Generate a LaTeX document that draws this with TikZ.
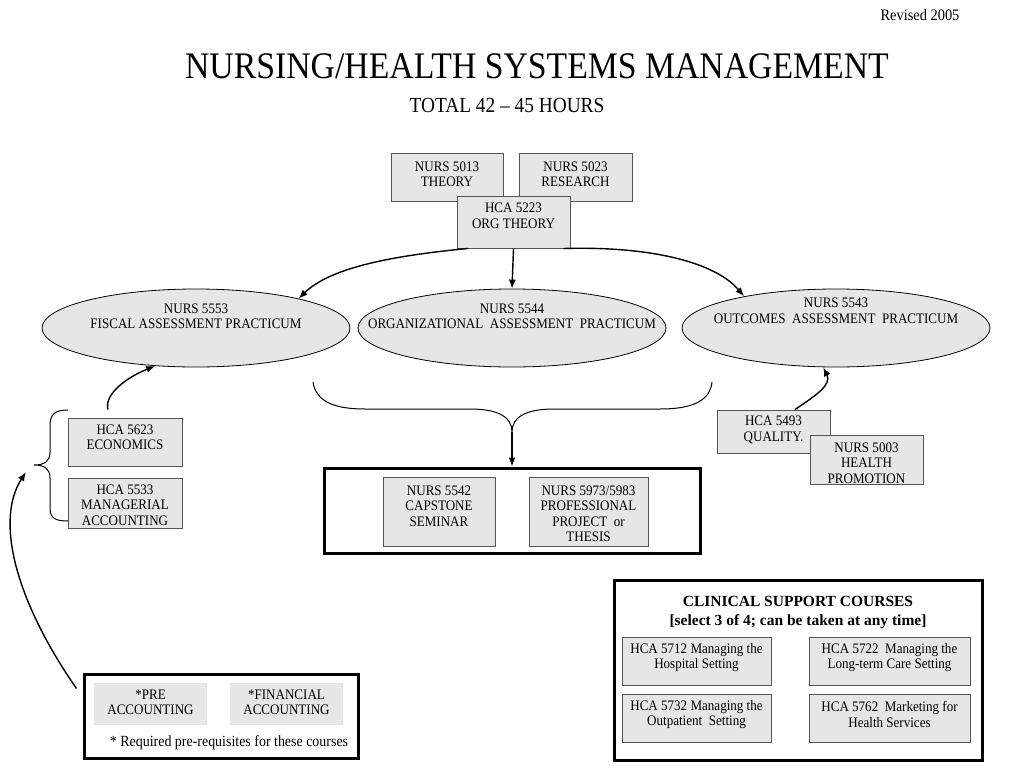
\documentclass[tikz,border=0pt]{standalone}
\usepackage{fontspec}
\setmainfont{Liberation Serif}[FakeStretch=0.9]
\newfontfamily\headfont{Liberation Serif}
\usetikzlibrary{arrows.meta,shapes.geometric}
\definecolor{boxgray}{HTML}{E6E6E6}
\definecolor{edgegray}{HTML}{555555}
\begin{document}
\begin{tikzpicture}
[x=1pt,y=-1pt,
  boxdecorate/.style={draw=edgegray,fill=boxgray,line width=1pt,inner sep=0pt},%
  plaindecorate/.style={fill=boxgray,inner sep=0pt},%
  ovaldecorate/.style={shape=ellipse,draw,fill=boxgray,line width=0.8pt,
    minimum width=308,minimum height=78,inner sep=0pt},%
  framedecorate/.style={draw,line width=3pt,inner sep=0pt},%
  textdecorate/.style={align=center,inner sep=0pt,
    font=\fontsize{14.5}{15.5}\selectfont},%
  linedecorate/.style={-{Latex[length=9pt,width=7pt]},line width=1.4pt},%
  bracedecorate/.style={line width=1pt}]
\useasboundingbox (0,0) rectangle (1024,768);
%% headings
\node (revised) at (920,15) [font=\fontsize{16}{18}\selectfont] {Revised 2005};
\node (title) at (537,66) [font=\fontsize{37.5}{40}\selectfont]
  {NURSING/HEALTH SYSTEMS MANAGEMENT};
\node (total) at (507,105) [font=\fontsize{21.5}{24}\selectfont]
  {TOTAL 42 -- 45 HOURS};
%% frames
\node (capframe) at (512,510.5) [framedecorate,minimum width=376,minimum height=85] {};
\node (clinframe) at (798,670) [framedecorate,minimum width=368,minimum height=180] {};
\node (preframe) at (221,716) [framedecorate,minimum width=274,minimum height=84] {};
%% course boxes
\foreach \nodename/\x/\y/\w/\h/\ty/\txt in {
  theory/447/177/112/48/174/{NURS 5013\\THEORY},
  research/575.5/177/113/48/174/{NURS 5023\\RESEARCH},
  org/513.5/222/113/52/216/{HCA 5223\\ORG THEORY},
  econ/125/442/114/48/437.5/{HCA 5623\\ECONOMICS},
  manacc/125/503/114/50/505/{HCA 5533\\MANAGERIAL\\ACCOUNTING},
  capstone/439/511.5/112/69/506/{NURS 5542\\CAPSTONE\\SEMINAR},
  project/588.5/511.5/119/69/513.5/{NURS 5973/5983\\PROFESSIONAL\\PROJECT\ \ or\\THESIS},
  quality/773.5/431.5/113/43/430/{HCA 5493\\QUALITY.},
  health/866.5/459.5/113/49/463/{NURS 5003\\HEALTH\\PROMOTION},
  hosp/696.5/661/149/48/657.5/{HCA 5712 Managing the\\Hospital Setting},
  ltc/889.5/661/161/48/657.5/{HCA 5722\ \ Managing the\\Long-term Care Setting},
  outpat/696.5/718/149/48/714.5/{HCA 5732 Managing the\\Outpatient\ \ Setting},
  market/889.5/718/161/48/714.5/{HCA 5762\ \ Marketing for\\Health Services}} {
  \node (\nodename) at (\x,\y) [boxdecorate,minimum width=\w,minimum height=\h] {};
  \node (\nodename-txt) at (\x,\ty) [textdecorate] {\txt};
}
\foreach \nodename/\x/\txt in {preacc/150.5/{*PRE\\ACCOUNTING},
  finacc/286.5/{*FINANCIAL\\ACCOUNTING}} {
  \node (\nodename) at (\x,704) [plaindecorate,minimum width=113,minimum height=42] {};
  \node (\nodename-txt) at (\x,702.5) [textdecorate] {\txt};
}
%% practicum ellipses
\foreach \nodename/\x/\ty/\txt in {
  fiscal/196/316.5/{NURS 5553\\FISCAL ASSESSMENT PRACTICUM},
  orgpract/512/316.5/{NURS 5544\\ORGANIZATIONAL\ \ ASSESSMENT\ \ PRACTICUM},
  outcomes/836/311/{NURS 5543\\OUTCOMES\ \ ASSESSMENT\ \ PRACTICUM}} {
  \node (\nodename) at (\x,328) [ovaldecorate] {};
  \node (\nodename-txt) at (\x,\ty) [textdecorate] {\txt};
}
\node (clinhead) at (798,613)
  [align=center,font=\headfont\bfseries\fontsize{15.5}{19}\selectfont]
  {CLINICAL SUPPORT COURSES\\{}[select 3 of 4; can be taken at any time]};
\node (prenote) at (229,743) [font=\fontsize{15.5}{17}\selectfont]
  {* Required pre-requisites for these courses};
%% braces
\coordinate (bracetip) at (34,465);
\draw[bracedecorate] (68,410) .. controls (55,410) and (50,414) .. (50,426)
  -- (50,452) .. controls (50,461) and (45,465) .. (bracetip)
  .. controls (45,465) and (50,469) .. (50,478) -- (50,508)
  .. controls (50,518) and (55,521) .. (68,521);
\coordinate (bracemid) at (512,432);
\draw[bracedecorate] (313,382) .. controls (316,402) and (335,409) .. (365,409)
  -- (470,409) .. controls (500,409) and (512,418) .. (bracemid)
  .. controls (512,418) and (524,409) .. (554,409) -- (660,409)
  .. controls (690,409) and (710,402) .. (712,382);
%% edges or arrows
\draw[linedecorate] (org.-150) .. controls (390,256) and (330,268) .. (fiscal.16);
\draw[linedecorate] (org.south) -- (orgpract.north);
\draw[linedecorate] (org.-28) .. controls (650,246) and (715,262) .. (outcomes.161);
\draw[linedecorate] ([xshift=-17pt,yshift=8pt]econ.north)
  .. controls (104,395) and (125,378) .. (fiscal.-137);
\draw[linedecorate] ([xshift=21.5pt]quality.north)
  .. controls (815,396) and (832,385) .. (outcomes.-108);
\draw[linedecorate] (bracemid) -- (capframe.north);
\draw[linedecorate] ([xshift=-6pt,yshift=-16pt]preframe.north west)
  .. controls (15,600) and (-5,520) .. ([xshift=-8pt,yshift=-7pt]bracetip);
\end{tikzpicture}
\end{document}
